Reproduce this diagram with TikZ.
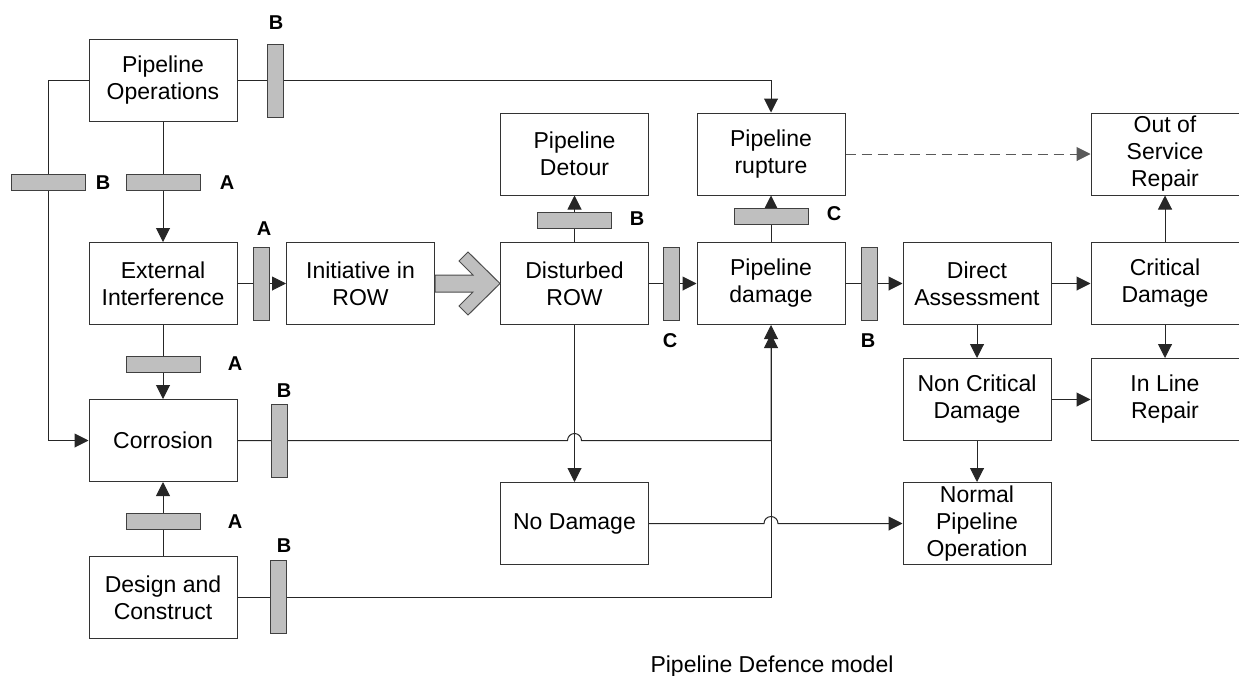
\documentclass[tikz,border=0pt]{standalone}
\usepackage{fontspec}
\setmainfont{Liberation Sans}
\usetikzlibrary{arrows.meta,calc}
\begin{document}
\begin{tikzpicture}[x=1pt,y=1pt,
 box/.style={draw=black!80, line width=1pt, minimum width=148pt, minimum height=82pt, inner sep=0pt, align=center, font=\fontsize{23}{27}\selectfont},
 hbar/.style={draw=black!75, fill=black!25, line width=1pt, minimum width=74pt, minimum height=16pt, inner sep=0pt},
 vbar/.style={draw=black!75, fill=black!25, line width=1pt, minimum width=16pt, minimum height=73pt, inner sep=0pt},
 lbl/.style={font=\fontsize{20}{24}\selectfont\bfseries, inner sep=0pt},
 conn/.style={line width=1pt, draw=black!85},
 arr/.style={conn, -{Triangle[length=14pt,width=14pt]}},
]
\useasboundingbox (0,0) rectangle (1239,-675);
% boxes
\node[box] (po)  at (163,-80.5)   {Pipeline\\Operations};
\node[box] (ei)  at (163,-283.5)  {External\\Interference};
\node[box] (ir)  at (360.5,-283.5){Initiative in\\ROW};
\node[box] (co)  at (163,-440.5)  {Corrosion};
\node[box] (dc)  at (163,-597.5)  {Design and\\Construct};
\node[box] (dr)  at (574.5,-283.5){Disturbed\\ROW};
\node[box] (pd)  at (574.5,-154)  {Pipeline\\Detour};
\node[box] (nd)  at (574.5,-523.5){No Damage};
\node[box] (pdm) at (771,-283.5)  {Pipeline\\damage};
\node[box] (pr)  at (771,-154)    {Pipeline\\rupture};
\node[box] (da)  at (977,-283.5)  {Direct\\Assessment};
\node[box] (ncd) at (977,-399.5)  {Non Critical\\Damage};
\node[box] (npo) at (977,-523.5)  {Normal\\Pipeline\\Operation};
\node[box] (cd)  at (1165,-283.5) {Critical\\Damage};
\node[box] (osr) at (1165,-154)   {Out of\\Service\\Repair};
\node[box] (ilr) at (1165,-399.5) {In Line\\Repair};
\coordinate (lx) at (48,0);
% connectors
\draw[arr] (po.west) -- (po.west -| lx) -- (co.west -| lx) -- (co.west);
\draw[arr] (po.east) -- (po.east -| pr.north) -- (pr.north);
\draw[arr] (po.south) -- (ei.north);
\draw[arr] (ei.east) -- (ir.west);
\draw[arr] (ei.south) -- (co.north);
\draw[arr] (dc.north) -- (co.south);
\draw[arr] (dc.east) -- (dc.east -| pdm.south) -- (pdm.south);
\draw[arr, shorten >=9pt] (co.east) -- ($(co.east -| dr.south)+(-7,0)$) arc[start angle=180,end angle=0,radius=7pt] -- (co.east -| pdm.south) -- (pdm.south);
\draw[arr] (dr.south) -- (nd.north);
\draw[arr] (dr.north) -- (pd.south);
\draw[arr] (dr.east) -- (pdm.west);
\draw[arr] (pdm.north) -- (pr.south);
\draw[arr] (pdm.east) -- (da.west);
\draw[arr, draw=black!65, dash pattern=on 10pt off 6pt] (pr.east) -- (osr.west);
\draw[arr] (da.east) -- (cd.west);
\draw[arr] (cd.north) -- (osr.south);
\draw[arr] (cd.south) -- (ilr.north);
\draw[arr] (da.south) -- (ncd.north);
\draw[arr] (ncd.east) -- (ilr.west);
\draw[arr] (ncd.south) -- (npo.north);
\draw[arr] (nd.east) -- ($(nd.east -| pdm.south)+(-7,0)$) arc[start angle=180,end angle=0,radius=7pt] -- (npo.west);
% big arrow
\filldraw[fill=black!25, draw=black!70, line width=1pt]
  ($(ir.east)+(0,8.5)$) -- ($(dr.west)+(-27,8.5)$) -- ($(dr.west)+(-41,22.5)$) -- ($(dr.west)+(-32,31.5)$)
  -- (dr.west) -- ($(dr.west)+(-32,-31.5)$) -- ($(dr.west)+(-41,-22.5)$) -- ($(dr.west)+(-27,-8.5)$)
  -- ($(ir.east)+(0,-8.5)$) -- cycle;
% barriers
\node[vbar] (b1) at (275,-80.5) {};
\node[hbar] (b2) at (48,-182) {};
\node[hbar] (b3) at (163,-182) {};
\node[vbar] (b4) at (261,-283.5) {};
\node[hbar] (b5) at (163,-364) {};
\node[vbar] (b6) at (279,-440.5) {};
\node[hbar] (b7) at (163,-521) {};
\node[vbar] (b8) at (278,-597) {};
\node[hbar] (b9) at (574,-220) {};
\node[vbar] (b10) at (671,-283.5) {};
\node[hbar] (b11) at (771,-216) {};
\node[vbar] (b12) at (869,-283.5) {};
% labels
\node[lbl] (l1) at (276,-23) {B};
\node[lbl] (l2) at (103,-183) {B};
\node[lbl] (l3) at (227,-183) {A};
\node[lbl] (l4) at (264,-229) {A};
\node[lbl] (l5) at (235,-364) {A};
\node[lbl] (l6) at (284,-391) {B};
\node[lbl] (l7) at (235,-522) {A};
\node[lbl] (l8) at (284,-546) {B};
\node[lbl] (l9) at (637,-219) {B};
\node[lbl] (l10) at (670,-341) {C};
\node[lbl] (l11) at (834,-214) {C};
\node[lbl] (l12) at (868,-341) {B};
\node[font=\fontsize{23}{27}\selectfont, anchor=base, inner sep=0pt] (cap) at (772,-672) {Pipeline Defence model};
\end{tikzpicture}
\end{document}
